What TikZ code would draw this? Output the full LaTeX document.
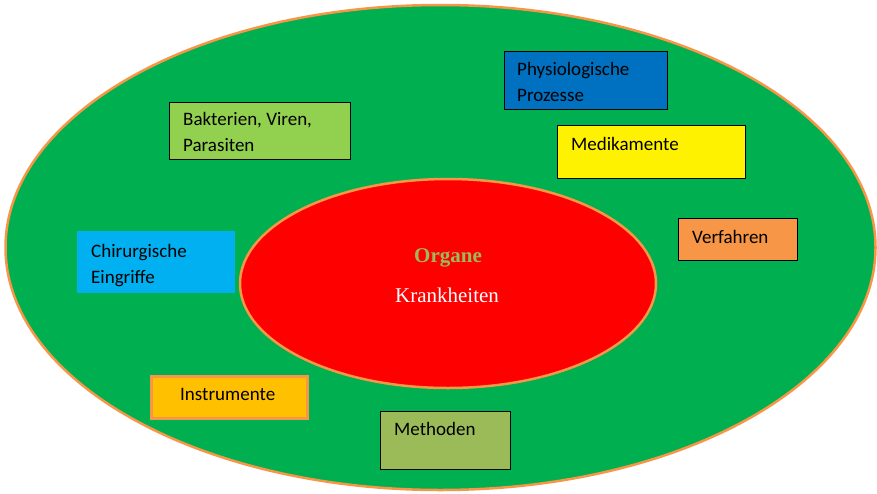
\documentclass[tikz,border=0pt]{standalone}
\usepackage{fontspec}
\setmainfont{Carlito}
\newfontfamily\timesfont{Liberation Serif}
\usetikzlibrary{shapes.geometric}
\definecolor{outergreen}{HTML}{00B050}
\definecolor{rimorange}{HTML}{F79646}
\definecolor{lightgreen}{HTML}{92D050}
\definecolor{physblue}{HTML}{0070C0}
\definecolor{chirblue}{HTML}{00B0F0}
\definecolor{instrorange}{HTML}{FFC000}
\definecolor{olivegreen}{HTML}{9BBB59}
\tikzset{
  boxrect/.style={draw=black, line width=0.8pt, inner sep=0pt, anchor=north west},
  lbl/.style={anchor=base west, inner sep=0pt, font=\fontsize{19}{26}\selectfont, text=black, align=left},
  oval/.style={ellipse, draw=rimorange, line width=2.5pt, inner sep=0pt},
}
\begin{document}
\begin{tikzpicture}[x=1pt,y=-1pt]
\useasboundingbox (0,0) rectangle (877,493);
% outer ellipse
\node[oval, fill=outergreen, minimum width=870pt, minimum height=485pt] (outer) at (440.5,247.5) {};
% inner ellipse
\node[oval, fill=red, minimum width=416pt, minimum height=209pt] (inner) at (448,283.5) {};
\node[anchor=base, inner sep=0pt, font=\timesfont\bfseries\fontsize{21}{25}\selectfont, text=olivegreen] (organe) at (448,262) {Organe};
\node[anchor=base, inner sep=0pt, font=\timesfont\fontsize{21}{25}\selectfont, text=white] (krank) at (447,302) {Krankheiten};
% boxes
\node[boxrect, fill=lightgreen, minimum width=181pt, minimum height=57pt] (bakt) at (169,102) {};
\node[lbl] (baktt) at (183,151) {Bakterien, Viren,\\Parasiten};
\node[boxrect, fill=physblue, minimum width=163pt, minimum height=58pt] (phys) at (504,51) {};
\node[lbl] (physt) at (517,101) {Physiologische\\Prozesse};
\node[boxrect, fill=yellow, minimum width=188pt, minimum height=53pt] (medi) at (557,125) {};
\node[lbl] (medit) at (571,150) {Medikamente};
\node[boxrect, fill=rimorange, minimum width=119pt, minimum height=42pt] (verf) at (678,218) {};
\node[lbl] (verft) at (692,243) {Verfahren};
\node[boxrect, draw=none, fill=chirblue, minimum width=158pt, minimum height=62pt] (chir) at (77,231) {};
\node[lbl] (chirt) at (91,283) {Chirurgische\\Eingriffe};
\node[boxrect, draw=rimorange, line width=2.5pt, fill=instrorange, minimum width=156pt, minimum height=42pt] (instr) at (150,375) {};
\node[lbl] (instrt) at (180,400) {Instrumente};
\node[boxrect, fill=olivegreen, minimum width=130pt, minimum height=58pt] (meth) at (380,411) {};
\node[lbl] (metht) at (394,435) {Methoden};
\end{tikzpicture}
\end{document}
